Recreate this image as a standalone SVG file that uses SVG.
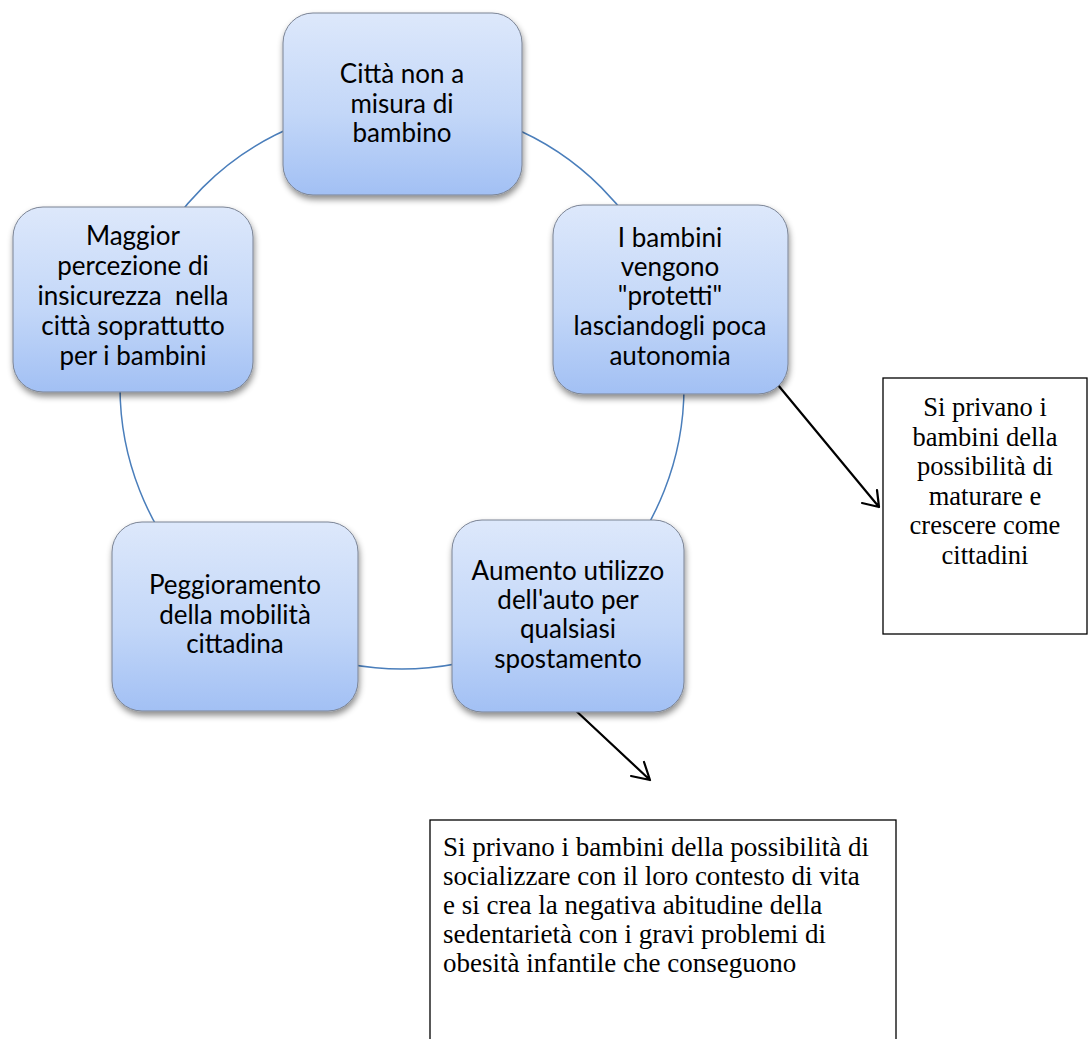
<svg xmlns="http://www.w3.org/2000/svg" width="1088" height="1039" viewBox="0 0 1088 1039">
  <style>
    .node rect { fill: url(#boxFill); stroke: #7a8394; stroke-width: 1; filter: url(#shadow); }
    .node text { font-family: Lato, Carlito, "Liberation Sans", sans-serif; font-size: 26px; fill: #000; text-anchor: middle; }
    .note rect { fill: #fff; stroke: #000; stroke-width: 1.3; }
    .note text { font-family: "Liberation Serif", "Times New Roman", serif; font-size: 26.5px; fill: #000; }
    #note-sedentarieta text { font-size: 27px; }
    .cycle { fill: none; stroke: #4a7ebb; stroke-width: 1.5; }
    .arrow { fill: none; stroke: #000; stroke-width: 2.2; stroke-linecap: round; stroke-linejoin: round; }
  </style>
  <defs>
    <linearGradient id="boxFill" x1="0" y1="0" x2="0" y2="1">
      <stop offset="0" stop-color="#dde8fb"/>
      <stop offset="0.55" stop-color="#c3d7f8"/>
      <stop offset="1" stop-color="#a2c0f4"/>
    </linearGradient>
    <filter id="shadow" x="-10%" y="-10%" width="125%" height="130%">
      <feDropShadow dx="1" dy="4" stdDeviation="3" flood-color="#000" flood-opacity="0.45"/>
    </filter>
  </defs>

  <rect width="1088" height="1039" fill="#fff"/>

  <!-- connectors: the cycle ring behind the boxes, and the two outgoing arrows -->
  <g id="connectors">
    <circle class="cycle" cx="402" cy="387" r="282"/>
    <path class="arrow" d="M773,379 L879,507 M862,503 L879,507 L877,490"/>
    <path class="arrow" d="M573,708 L650,780 M631,776 L650,780 L644,762"/>
  </g>

  <g id="node-citta" class="node">
    <rect x="283" y="13" width="239" height="182" rx="30"/>
    <text x="402" y="83">Città non a</text>
    <text x="402" y="113">misura di</text>
    <text x="402" y="142">bambino</text>
  </g>

  <g id="node-protetti" class="node">
    <rect x="553" y="205" width="235" height="189" rx="30"/>
    <text x="670" y="247">I bambini</text>
    <text x="670" y="276">vengono</text>
    <text x="670" y="305">"protetti"</text>
    <text x="670" y="335">lasciandogli poca</text>
    <text x="670" y="365">autonomia</text>
  </g>

  <g id="node-auto" class="node">
    <rect x="452" y="520" width="232" height="192" rx="30"/>
    <text x="568" y="580">Aumento utilizzo</text>
    <text x="568" y="609">dell'auto per</text>
    <text x="568" y="638">qualsiasi</text>
    <text x="568" y="668">spostamento</text>
  </g>

  <g id="node-mobilita" class="node">
    <rect x="112" y="522" width="246" height="189" rx="30"/>
    <text x="235" y="594">Peggioramento</text>
    <text x="235" y="624">della mobilità</text>
    <text x="235" y="653">cittadina</text>
  </g>

  <g id="node-insicurezza" class="node">
    <rect x="13" y="207" width="240" height="185" rx="30"/>
    <text x="133" y="245">Maggior</text>
    <text x="133" y="275">percezione di</text>
    <text x="133" y="305" xml:space="preserve">insicurezza  nella</text>
    <text x="133" y="335">città soprattutto</text>
    <text x="133" y="365">per i bambini</text>
  </g>

  <g id="note-cittadini" class="note">
    <rect x="883" y="378" width="204" height="256"/>
    <text x="985" y="416" text-anchor="middle">Si privano i</text>
    <text x="985" y="446" text-anchor="middle">bambini della</text>
    <text x="985" y="475" text-anchor="middle">possibilità di</text>
    <text x="985" y="505" text-anchor="middle">maturare e</text>
    <text x="985" y="534" text-anchor="middle">crescere come</text>
    <text x="985" y="564" text-anchor="middle">cittadini</text>
  </g>

  <g id="note-sedentarieta" class="note">
    <rect x="430" y="820" width="466" height="240"/>
    <text x="443" y="856">Si privano i bambini della possibilità di</text>
    <text x="443" y="885">socializzare con il loro contesto di vita</text>
    <text x="443" y="914">e si crea la negativa abitudine della</text>
    <text x="443" y="943">sedentarietà con i gravi problemi di</text>
    <text x="443" y="972">obesità infantile che conseguono</text>
  </g>
</svg>
